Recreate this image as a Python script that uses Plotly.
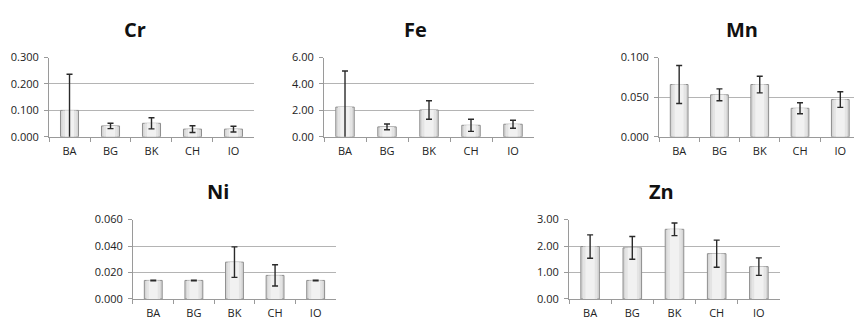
import plotly.graph_objects as go

categories = ["BA", "BG", "BK", "CH", "IO"]

cr_mean = [0.100, 0.041, 0.051, 0.029, 0.029]
cr_err = [0.137, 0.010, 0.021, 0.013, 0.011]

fe_mean = [2.25, 0.75, 2.03, 0.87, 0.95]
fe_err = [2.73, 0.22, 0.70, 0.46, 0.30]

mn_mean = [0.066, 0.053, 0.066, 0.036, 0.047]
mn_err = [0.024, 0.0075, 0.0105, 0.007, 0.0098]

ni_mean = [0.0140, 0.0140, 0.0278, 0.0178, 0.0140]
ni_err = [0.0002, 0.0002, 0.0115, 0.0080, 0.0002]

zn_mean = [1.98, 1.93, 2.63, 1.71, 1.22]
zn_err = [0.44, 0.43, 0.24, 0.51, 0.33]

W, H = 854, 326

panels = [
    # name, mean, err, x-domain, y-domain, y range, dtick, fmt, x range, title x (px)
    ("Cr", cr_mean, cr_err, [0.0574, 0.2974], [0.5859, 0.8405], [0, 0.3], 0.1, ".3f", [-0.5, 4.5], 135),
    ("Fe", fe_mean, fe_err, [0.3794, 0.6253], [0.5859, 0.8405], [0, 6], 2, ".2f", [-0.5, 4.5], 415),
    ("Mn", mn_mean, mn_err, [0.7717, 1.0], [0.5859, 0.8405], [0, 0.1], 0.05, ".3f", [-0.5, 4.34], 742),
    ("Ni", ni_mean, ni_err, [0.1557, 0.3934], [0.0644, 0.3199], [0, 0.06], 0.02, ".3f", [-0.5, 4.5], 218),
    ("Zn", zn_mean, zn_err, [0.6663, 0.9133], [0.0644, 0.3199], [0, 3], 1, ".2f", [-0.5, 4.5], 661),
]

# layered fills give the bars a soft shaded look
shades = [(0.44, "#d6d6d6", 1), (0.34, "#e4e4e4", 0), (0.22, "#f1f1f1", 0)]

fig = go.Figure()
font = dict(family="Open Sans", size=11, color="#222")
layout = dict(
    width=W, height=H,
    margin=dict(l=0, r=0, t=0, b=0),
    paper_bgcolor="white", plot_bgcolor="white",
    showlegend=False, font=font, barmode="overlay",
    annotations=[],
)

for i, (name, mean, err, xd, yd, yr, dt, fmt, xr, tx) in enumerate(panels):
    n = i + 1
    xa = "x" if n == 1 else f"x{n}"
    ya = "y" if n == 1 else f"y{n}"
    for k, (w, c, lw) in enumerate(shades):
        last = k == len(shades) - 1
        fig.add_trace(go.Bar(
            x=categories, y=mean, xaxis=xa, yaxis=ya,
            width=w,
            marker=dict(color=c, line=dict(color="#8e8e8e", width=lw)),
            error_y=dict(type="data", array=err, visible=last, color="#2a2a2a",
                         thickness=1.4, width=3),
            cliponaxis=False, hoverinfo="skip" if not last else None,
        ))
    xkey = "xaxis" if n == 1 else f"xaxis{n}"
    ykey = "yaxis" if n == 1 else f"yaxis{n}"
    layout[xkey] = dict(
        domain=xd, anchor=ya, range=xr, type="category",
        showline=True, linecolor="#9a9a9a", linewidth=1,
        ticks="outside", tickson="boundaries", ticklen=4, tickcolor="#9a9a9a",
        showgrid=False, tickfont=font, fixedrange=True, ticklabelstandoff=4,
    )
    layout[ykey] = dict(
        domain=yd, anchor=xa, range=yr, dtick=dt, tickformat=fmt,
        showline=True, linecolor="#9a9a9a", linewidth=1,
        ticks="outside", ticklen=4, tickcolor="#9a9a9a",
        showgrid=True, gridcolor="#b4b4b4", gridwidth=1,
        zeroline=False, tickfont=font, fixedrange=True, ticklabelstandoff=3,
    )
    layout["annotations"].append(dict(
        text=f"<b>{name}</b>", x=tx / W,
        y=yd[1] + 29 / H, xref="paper", yref="paper",
        xanchor="center", yanchor="middle", showarrow=False,
        font=dict(family="Open Sans", size=20, color="#111"),
    ))

fig.update_layout(**layout)
fig.write_html(
    "out.html",
    config={"displayModeBar": False},
    post_script="document.body.style.margin='0';document.body.style.overflow='hidden';",
)
